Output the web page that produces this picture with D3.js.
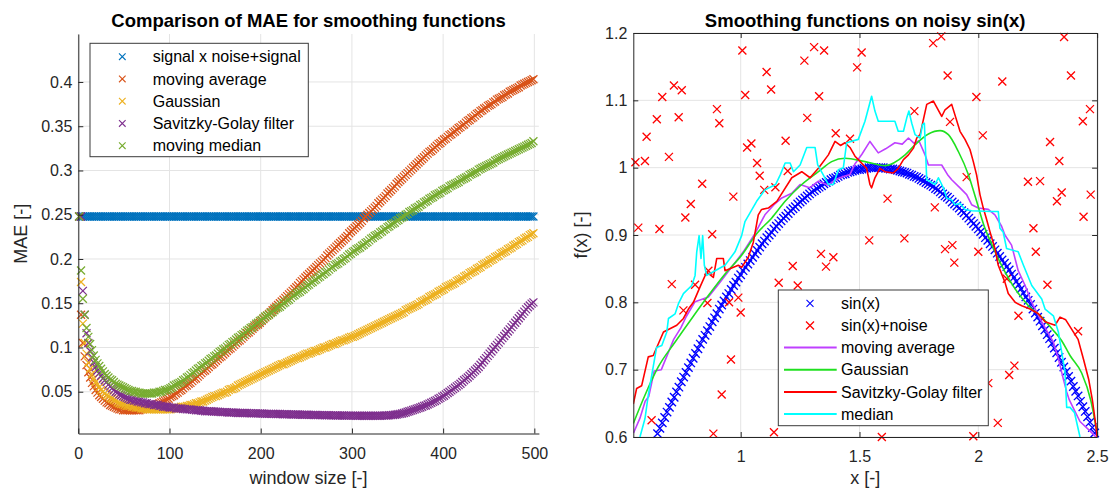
<!DOCTYPE html>
<html>
<head>
<meta charset="utf-8">
<script src="https://cdn.jsdelivr.net/npm/d3@7"></script>
<style>
  body { margin: 0; background: #fff; }
  svg text { font-family: "Liberation Sans", Arial, Helvetica, sans-serif; }
</style>
</head>
<body>
<svg id="chart" width="1117" height="495"></svg>
<script>
// ---------------- Left panel data: MAE against (odd) window size 1..499 ----------------
const windowSizes = d3.range(1, 500, 2);

const maeNoise = [
  0.248, 0.248, 0.248, 0.248, 0.248, 0.248, 0.248, 0.248, 0.248, 0.248,
  0.248, 0.248, 0.248, 0.248, 0.248, 0.248, 0.248, 0.248, 0.248, 0.248,
  0.248, 0.248, 0.248, 0.248, 0.248, 0.248, 0.248, 0.248, 0.248, 0.248,
  0.248, 0.248, 0.248, 0.248, 0.248, 0.248, 0.248, 0.248, 0.248, 0.248,
  0.248, 0.248, 0.248, 0.248, 0.248, 0.248, 0.248, 0.248, 0.248, 0.248,
  0.248, 0.248, 0.248, 0.248, 0.248, 0.248, 0.248, 0.248, 0.248, 0.248,
  0.248, 0.248, 0.248, 0.248, 0.248, 0.248, 0.248, 0.248, 0.248, 0.248,
  0.248, 0.248, 0.248, 0.248, 0.248, 0.248, 0.248, 0.248, 0.248, 0.248,
  0.248, 0.248, 0.248, 0.248, 0.248, 0.248, 0.248, 0.248, 0.248, 0.248,
  0.248, 0.248, 0.248, 0.248, 0.248, 0.248, 0.248, 0.248, 0.248, 0.248,
  0.248, 0.248, 0.248, 0.248, 0.248, 0.248, 0.248, 0.248, 0.248, 0.248,
  0.248, 0.248, 0.248, 0.248, 0.248, 0.248, 0.248, 0.248, 0.248, 0.248,
  0.248, 0.248, 0.248, 0.248, 0.248, 0.248, 0.248, 0.248, 0.248, 0.248,
  0.248, 0.248, 0.248, 0.248, 0.248, 0.248, 0.248, 0.248, 0.248, 0.248,
  0.248, 0.248, 0.248, 0.248, 0.248, 0.248, 0.248, 0.248, 0.248, 0.248,
  0.248, 0.248, 0.248, 0.248, 0.248, 0.248, 0.248, 0.248, 0.248, 0.248,
  0.248, 0.248, 0.248, 0.248, 0.248, 0.248, 0.248, 0.248, 0.248, 0.248,
  0.248, 0.248, 0.248, 0.248, 0.248, 0.248, 0.248, 0.248, 0.248, 0.248,
  0.248, 0.248, 0.248, 0.248, 0.248, 0.248, 0.248, 0.248, 0.248, 0.248,
  0.248, 0.248, 0.248, 0.248, 0.248, 0.248, 0.248, 0.248, 0.248, 0.248,
  0.248, 0.248, 0.248, 0.248, 0.248, 0.248, 0.248, 0.248, 0.248, 0.248,
  0.248, 0.248, 0.248, 0.248, 0.248, 0.248, 0.248, 0.248, 0.248, 0.248,
  0.248, 0.248, 0.248, 0.248, 0.248, 0.248, 0.248, 0.248, 0.248, 0.248,
  0.248, 0.248, 0.248, 0.248, 0.248, 0.248, 0.248, 0.248, 0.248, 0.248,
  0.248, 0.248, 0.248, 0.248, 0.248, 0.248, 0.248, 0.248, 0.248, 0.248
];

const maeMovingAverage = [
  0.248, 0.137, 0.105, 0.090, 0.080, 0.072, 0.066, 0.060, 0.056, 0.052,
  0.049, 0.046, 0.044, 0.042, 0.040, 0.038, 0.037, 0.035, 0.034, 0.033,
  0.032, 0.031, 0.030, 0.030, 0.029, 0.029, 0.029, 0.029, 0.029, 0.029,
  0.029, 0.029, 0.029, 0.029, 0.030, 0.030, 0.031, 0.031, 0.032, 0.033,
  0.033, 0.034, 0.035, 0.036, 0.037, 0.038, 0.039, 0.040, 0.041, 0.042,
  0.044, 0.045, 0.046, 0.048, 0.049, 0.051, 0.052, 0.054, 0.056, 0.057,
  0.059, 0.060, 0.062, 0.064, 0.065, 0.067, 0.069, 0.071, 0.073, 0.074,
  0.076, 0.078, 0.080, 0.081, 0.083, 0.085, 0.087, 0.089, 0.090, 0.092,
  0.094, 0.096, 0.098, 0.099, 0.101, 0.103, 0.105, 0.107, 0.108, 0.110,
  0.112, 0.114, 0.116, 0.117, 0.119, 0.121, 0.123, 0.125, 0.126, 0.128,
  0.130, 0.132, 0.134, 0.136, 0.138, 0.140, 0.142, 0.144, 0.146, 0.148,
  0.150, 0.152, 0.154, 0.156, 0.158, 0.160, 0.162, 0.164, 0.166, 0.168,
  0.170, 0.173, 0.175, 0.177, 0.179, 0.181, 0.183, 0.185, 0.187, 0.189,
  0.191, 0.193, 0.195, 0.197, 0.199, 0.201, 0.204, 0.206, 0.208, 0.210,
  0.212, 0.214, 0.216, 0.218, 0.220, 0.222, 0.224, 0.226, 0.229, 0.231,
  0.233, 0.235, 0.237, 0.239, 0.241, 0.243, 0.246, 0.248, 0.250, 0.252,
  0.254, 0.256, 0.258, 0.260, 0.263, 0.265, 0.267, 0.269, 0.271, 0.274,
  0.276, 0.278, 0.280, 0.282, 0.285, 0.287, 0.289, 0.291, 0.293, 0.295,
  0.297, 0.299, 0.301, 0.303, 0.305, 0.307, 0.309, 0.311, 0.313, 0.315,
  0.317, 0.319, 0.321, 0.322, 0.324, 0.326, 0.328, 0.330, 0.331, 0.333,
  0.335, 0.336, 0.338, 0.340, 0.341, 0.343, 0.344, 0.346, 0.348, 0.349,
  0.351, 0.352, 0.354, 0.356, 0.357, 0.359, 0.360, 0.362, 0.364, 0.365,
  0.367, 0.368, 0.370, 0.371, 0.373, 0.374, 0.375, 0.377, 0.378, 0.380,
  0.381, 0.382, 0.383, 0.385, 0.386, 0.387, 0.389, 0.390, 0.391, 0.392,
  0.393, 0.394, 0.396, 0.397, 0.398, 0.399, 0.400, 0.401, 0.402, 0.403
];

const maeGaussian = [
  0.248, 0.174, 0.127, 0.105, 0.093, 0.083, 0.076, 0.070, 0.065, 0.061,
  0.058, 0.055, 0.052, 0.050, 0.048, 0.046, 0.045, 0.043, 0.042, 0.041,
  0.040, 0.038, 0.037, 0.036, 0.036, 0.035, 0.034, 0.034, 0.034, 0.033,
  0.033, 0.032, 0.032, 0.032, 0.031, 0.031, 0.031, 0.030, 0.030, 0.030,
  0.030, 0.030, 0.030, 0.030, 0.030, 0.030, 0.030, 0.030, 0.030, 0.030,
  0.030, 0.031, 0.031, 0.031, 0.032, 0.032, 0.033, 0.033, 0.033, 0.034,
  0.034, 0.035, 0.035, 0.036, 0.037, 0.037, 0.038, 0.039, 0.039, 0.040,
  0.041, 0.042, 0.043, 0.044, 0.045, 0.045, 0.046, 0.047, 0.048, 0.049,
  0.049, 0.050, 0.052, 0.053, 0.053, 0.054, 0.055, 0.057, 0.058, 0.059,
  0.060, 0.061, 0.062, 0.063, 0.064, 0.065, 0.066, 0.067, 0.068, 0.069,
  0.070, 0.071, 0.072, 0.073, 0.074, 0.075, 0.076, 0.077, 0.078, 0.079,
  0.080, 0.081, 0.081, 0.082, 0.083, 0.084, 0.085, 0.086, 0.087, 0.088,
  0.088, 0.089, 0.090, 0.091, 0.092, 0.093, 0.093, 0.094, 0.095, 0.096,
  0.096, 0.097, 0.098, 0.099, 0.100, 0.100, 0.101, 0.102, 0.103, 0.104,
  0.104, 0.105, 0.106, 0.107, 0.108, 0.108, 0.109, 0.110, 0.111, 0.112,
  0.112, 0.113, 0.114, 0.115, 0.116, 0.117, 0.118, 0.119, 0.120, 0.121,
  0.122, 0.123, 0.124, 0.125, 0.126, 0.127, 0.128, 0.129, 0.130, 0.131,
  0.132, 0.133, 0.134, 0.135, 0.136, 0.137, 0.138, 0.139, 0.140, 0.142,
  0.143, 0.144, 0.145, 0.146, 0.147, 0.148, 0.149, 0.151, 0.152, 0.153,
  0.154, 0.155, 0.157, 0.158, 0.159, 0.160, 0.161, 0.163, 0.164, 0.165,
  0.166, 0.168, 0.169, 0.170, 0.171, 0.172, 0.173, 0.175, 0.176, 0.177,
  0.178, 0.180, 0.181, 0.182, 0.184, 0.185, 0.186, 0.187, 0.189, 0.190,
  0.191, 0.193, 0.194, 0.195, 0.196, 0.198, 0.199, 0.200, 0.202, 0.203,
  0.204, 0.206, 0.207, 0.208, 0.209, 0.211, 0.212, 0.213, 0.215, 0.216,
  0.217, 0.219, 0.220, 0.221, 0.223, 0.224, 0.225, 0.227, 0.228, 0.229
];

const maeSavitzkyGolay = [
  0.248, 0.248, 0.164, 0.137, 0.116, 0.105, 0.096, 0.089, 0.083, 0.078,
  0.074, 0.071, 0.068, 0.065, 0.063, 0.061, 0.058, 0.056, 0.054, 0.052,
  0.050, 0.049, 0.047, 0.046, 0.045, 0.044, 0.043, 0.042, 0.041, 0.041,
  0.040, 0.040, 0.039, 0.039, 0.038, 0.038, 0.037, 0.037, 0.036, 0.036,
  0.036, 0.035, 0.035, 0.035, 0.034, 0.034, 0.033, 0.033, 0.033, 0.0325,
  0.032, 0.032, 0.032, 0.031, 0.031, 0.031, 0.031, 0.0305, 0.0305, 0.030,
  0.030, 0.030, 0.0295, 0.0295, 0.029, 0.029, 0.029, 0.0285, 0.0285, 0.028,
  0.028, 0.028, 0.028, 0.0278, 0.0276, 0.0275, 0.0274, 0.0272, 0.027, 0.027,
  0.027, 0.0268, 0.0266, 0.0265, 0.0265, 0.0264, 0.0262, 0.026, 0.026, 0.026,
  0.026, 0.026, 0.026, 0.0258, 0.0257, 0.0256, 0.0255, 0.0255, 0.0255, 0.0255,
  0.0254, 0.0252, 0.025, 0.025, 0.025, 0.025, 0.025, 0.025, 0.0249, 0.0248,
  0.0248, 0.0247, 0.0246, 0.0245, 0.0245, 0.0244, 0.0244, 0.0243, 0.0243, 0.0242,
  0.0242, 0.0241, 0.024, 0.024, 0.024, 0.024, 0.0239, 0.0238, 0.0238, 0.0237,
  0.0237, 0.0236, 0.0236, 0.0235, 0.0235, 0.0234, 0.0234, 0.0234, 0.0233, 0.0233,
  0.0233, 0.0232, 0.0232, 0.0231, 0.0231, 0.0231, 0.023, 0.023, 0.023, 0.023,
  0.023, 0.023, 0.0229, 0.0229, 0.0229, 0.0229, 0.0228, 0.0228, 0.0228, 0.0228,
  0.0228, 0.0228, 0.0228, 0.0228, 0.0229, 0.0229, 0.023, 0.023, 0.0231, 0.0232,
  0.0234, 0.0235, 0.0237, 0.024, 0.0243, 0.0247, 0.025, 0.0254, 0.026, 0.0265,
  0.0273, 0.028, 0.0287, 0.0294, 0.030, 0.0308, 0.0315, 0.0322, 0.033, 0.034,
  0.0345, 0.0355, 0.0365, 0.0375, 0.0385, 0.0395, 0.0405, 0.042, 0.043, 0.0445,
  0.0455, 0.047, 0.0485, 0.050, 0.0515, 0.053, 0.0545, 0.056, 0.0575, 0.059,
  0.061, 0.063, 0.0645, 0.066, 0.068, 0.070, 0.072, 0.074, 0.076, 0.078,
  0.0805, 0.083, 0.0855, 0.088, 0.0905, 0.093, 0.0955, 0.098, 0.1005, 0.103,
  0.1055, 0.108, 0.1105, 0.113, 0.1155, 0.118, 0.1205, 0.123, 0.1255, 0.128,
  0.1305, 0.133, 0.1355, 0.138, 0.1405, 0.143, 0.1455, 0.1475, 0.1495, 0.151
];

const maeMovingMedian = [
  0.248, 0.187, 0.155, 0.137, 0.122, 0.112, 0.104, 0.097, 0.091, 0.086,
  0.082, 0.079, 0.076, 0.073, 0.070, 0.068, 0.066, 0.064, 0.063, 0.061,
  0.059, 0.058, 0.057, 0.056, 0.055, 0.054, 0.053, 0.052, 0.051, 0.051,
  0.050, 0.050, 0.049, 0.049, 0.048, 0.048, 0.048, 0.048, 0.048, 0.048,
  0.048, 0.049, 0.049, 0.049, 0.050, 0.050, 0.051, 0.052, 0.052, 0.053,
  0.054, 0.055, 0.057, 0.058, 0.059, 0.060, 0.061, 0.063, 0.064, 0.066,
  0.067, 0.069, 0.071, 0.072, 0.074, 0.076, 0.077, 0.079, 0.080, 0.082,
  0.083, 0.085, 0.087, 0.088, 0.090, 0.091, 0.093, 0.095, 0.096, 0.098,
  0.099, 0.101, 0.103, 0.104, 0.106, 0.107, 0.109, 0.111, 0.112, 0.114,
  0.115, 0.117, 0.119, 0.120, 0.122, 0.123, 0.125, 0.127, 0.128, 0.130,
  0.131, 0.133, 0.135, 0.136, 0.137, 0.139, 0.140, 0.142, 0.144, 0.145,
  0.146, 0.148, 0.150, 0.151, 0.153, 0.154, 0.156, 0.158, 0.159, 0.161,
  0.162, 0.163, 0.165, 0.166, 0.168, 0.170, 0.171, 0.173, 0.174, 0.176,
  0.177, 0.179, 0.180, 0.182, 0.183, 0.185, 0.186, 0.188, 0.190, 0.191,
  0.193, 0.194, 0.195, 0.197, 0.198, 0.200, 0.201, 0.203, 0.205, 0.206,
  0.208, 0.209, 0.211, 0.212, 0.213, 0.215, 0.216, 0.218, 0.219, 0.221,
  0.223, 0.224, 0.226, 0.227, 0.228, 0.230, 0.231, 0.233, 0.234, 0.236,
  0.237, 0.239, 0.240, 0.241, 0.243, 0.244, 0.246, 0.247, 0.248, 0.250,
  0.251, 0.253, 0.254, 0.255, 0.257, 0.258, 0.259, 0.261, 0.262, 0.264,
  0.265, 0.266, 0.268, 0.269, 0.270, 0.272, 0.273, 0.274, 0.275, 0.277,
  0.278, 0.279, 0.280, 0.282, 0.283, 0.284, 0.285, 0.286, 0.287, 0.289,
  0.290, 0.291, 0.292, 0.293, 0.295, 0.296, 0.297, 0.298, 0.299, 0.301,
  0.302, 0.303, 0.304, 0.305, 0.306, 0.307, 0.308, 0.309, 0.311, 0.312,
  0.313, 0.314, 0.315, 0.316, 0.317, 0.318, 0.319, 0.320, 0.321, 0.322,
  0.323, 0.324, 0.325, 0.326, 0.327, 0.328, 0.329, 0.330, 0.331, 0.333
];

const leftSeriesNames = ["signal x noise+signal", "moving average", "Gaussian", "Savitzky-Golay filter", "moving median"];
const leftSeriesColors = ["#0072BD", "#D95319", "#EDB120", "#7E2F8E", "#77AC30"];
const leftXTicks = [0, 100, 200, 300, 400, 500];
const leftYTicks = [0.05, 0.1, 0.15, 0.2, 0.25, 0.3, 0.35, 0.4];

// ---------------- Right panel data: smoothing of noisy sin(x) ----------------
const sinX = d3.range(65, 250).map(i => i / 100);
const sinY = [
  0.605, 0.613, 0.621, 0.629, 0.637, 0.644, 0.652, 0.659, 0.667, 0.674,
  0.682, 0.689, 0.696, 0.703, 0.710, 0.717, 0.724, 0.731, 0.738, 0.745,
  0.751, 0.758, 0.764, 0.771, 0.777, 0.783, 0.790, 0.796, 0.802, 0.808,
  0.813, 0.819, 0.825, 0.830, 0.836, 0.841, 0.847, 0.852, 0.857, 0.862,
  0.867, 0.872, 0.877, 0.882, 0.887, 0.891, 0.896, 0.900, 0.904, 0.909,
  0.913, 0.917, 0.921, 0.925, 0.928, 0.932, 0.936, 0.939, 0.942, 0.946,
  0.949, 0.952, 0.955, 0.958, 0.961, 0.964, 0.966, 0.969, 0.971, 0.973,
  0.976, 0.978, 0.980, 0.982, 0.984, 0.985, 0.987, 0.989, 0.990, 0.991,
  0.993, 0.994, 0.995, 0.996, 0.997, 0.997, 0.998, 0.999, 0.999, 1.000,
  1.000, 1.000, 1.000, 1.000, 1.000, 1.000, 0.999, 0.999, 0.998, 0.998,
  0.997, 0.996, 0.995, 0.994, 0.993, 0.992, 0.990, 0.989, 0.987, 0.986,
  0.984, 0.982, 0.980, 0.978, 0.976, 0.974, 0.972, 0.969, 0.967, 0.964,
  0.961, 0.958, 0.956, 0.953, 0.949, 0.946, 0.943, 0.940, 0.936, 0.933,
  0.929, 0.925, 0.921, 0.917, 0.913, 0.909, 0.905, 0.901, 0.896, 0.892,
  0.887, 0.883, 0.878, 0.873, 0.868, 0.863, 0.858, 0.853, 0.848, 0.842,
  0.837, 0.831, 0.826, 0.820, 0.814, 0.808, 0.803, 0.797, 0.790, 0.784,
  0.778, 0.772, 0.765, 0.759, 0.752, 0.746, 0.739, 0.732, 0.725, 0.718,
  0.711, 0.704, 0.697, 0.690, 0.683, 0.675, 0.668, 0.661, 0.653, 0.645,
  0.638, 0.630, 0.622, 0.614, 0.606
];

const noiseX = [
  1.007, 1.309, 1.351, 1.268, 1.109, 1.128, 1.019, 1.330, 0.719, 0.752,
  0.670, 0.647, 0.739, 0.900, 0.910, 1.280, 0.604, 1.400, 1.189, 1.045,
  1.027, 0.557, 0.597, 0.698, 1.069, 1.198, 1.080, 0.838, 1.099, 1.146,
  0.969, 0.790, 0.767, 0.569, 0.658, 0.880, 1.460, 1.844, 1.810, 2.361,
  1.509, 1.490, 1.871, 2.101, 2.390, 1.992, 1.731, 1.881, 2.019, 2.302,
  2.341, 1.951, 2.209, 2.260, 2.351, 2.331, 1.618, 1.817, 2.232, 2.470,
  2.440, 2.473, 2.443, 2.420, 1.338, 1.390, 1.359, 1.219, 1.160, 1.240,
  0.710, 0.808, 0.864, 0.759, 0.860, 0.951, 0.990, 1.000, 0.959, 0.920,
  0.625, 0.885, 1.140, 1.541, 1.689, 1.860, 1.891, 1.899, 2.000, 2.242,
  2.291, 2.120, 2.169, 2.152, 2.130, 2.082, 1.594, 1.979, 2.042
];
const noiseY = [
  1.174, 1.179, 1.174, 1.159, 1.142, 1.116, 1.108, 1.106, 1.122, 1.115,
  1.105, 1.072, 1.075, 1.087, 1.066, 1.074, 1.046, 1.051, 1.040, 1.036,
  1.030, 1.008, 1.010, 1.016, 1.007, 0.995, 0.988, 0.976, 0.967, 0.971,
  0.957, 0.946, 0.926, 0.911, 0.909, 0.901, 1.043, 1.195, 1.185, 1.194,
  1.171, 1.149, 1.137, 1.128, 1.137, 1.105, 1.084, 1.068, 1.048, 1.038,
  1.010, 0.986, 0.979, 0.980, 0.963, 0.950, 0.954, 0.941, 0.910, 1.087,
  1.069, 0.960, 0.927, 0.757, 0.872, 0.867, 0.853, 0.854, 0.829, 0.825,
  0.827, 0.826, 0.847, 0.788, 0.799, 0.800, 0.807, 0.785, 0.715, 0.663,
  0.625, 0.605, 0.607, 0.892, 0.895, 0.879, 0.885, 0.859, 0.875, 0.875,
  0.826, 0.835, 0.780, 0.706, 0.692, 0.621, 0.600, 0.601, 0.680
];

const movAvgX = [
  0.549, 0.576, 0.598, 0.613, 0.636, 0.666, 0.718, 0.748, 0.771, 0.808,
  0.864, 0.913, 1.011, 1.060, 1.102, 1.140, 1.173, 1.215, 1.250, 1.290,
  1.327, 1.370, 1.397, 1.432, 1.460, 1.480, 1.510, 1.544, 1.579, 1.610,
  1.649, 1.680, 1.706, 1.730, 1.750, 1.776, 1.790, 1.846, 1.870, 1.888,
  1.923, 1.951, 1.972, 2.000, 2.042, 2.070, 2.098, 2.112, 2.140, 2.168,
  2.197, 2.225, 2.267, 2.316, 2.337, 2.358, 2.372, 2.383, 2.428, 2.473, 2.495
];
const movAvgY = [
  0.606, 0.628, 0.653, 0.660, 0.698, 0.700, 0.745, 0.762, 0.779, 0.801,
  0.808, 0.830, 0.875, 0.902, 0.930, 0.945, 0.955, 0.962, 0.975, 0.970,
  0.980, 0.974, 0.982, 0.987, 0.990, 1.005, 1.020, 1.039, 1.022, 1.028,
  1.037, 1.035, 1.044, 1.036, 1.040, 1.019, 1.004, 1.004, 0.990, 0.982,
  0.970, 0.960, 0.945, 0.940, 0.938, 0.930, 0.913, 0.900, 0.885, 0.847,
  0.825, 0.800, 0.771, 0.741, 0.716, 0.686, 0.667, 0.655, 0.623, 0.608, 0.600
];

const gaussX = [
  0.548, 0.597, 0.653, 0.724, 0.794, 0.864, 0.934, 1.004, 1.067, 1.130,
  1.187, 1.257, 1.327, 1.383, 1.439, 1.523, 1.607, 1.692, 1.734, 1.790,
  1.839, 1.874, 1.916, 1.958, 1.993, 2.028, 2.042, 2.098, 2.155, 2.211,
  2.267, 2.309, 2.351, 2.386, 2.435, 2.473, 2.500
];
const gaussY = [
  0.620, 0.662, 0.704, 0.741, 0.776, 0.810, 0.842, 0.870, 0.902, 0.925,
  0.950, 0.975, 0.994, 1.009, 1.014, 1.009, 1.003, 1.019, 1.034, 1.050,
  1.055, 1.049, 1.024, 0.990, 0.950, 0.910, 0.898, 0.855, 0.820, 0.795,
  0.778, 0.761, 0.743, 0.721, 0.695, 0.655, 0.606
];

const sgX = [
  0.548, 0.562, 0.583, 0.611, 0.632, 0.675, 0.731, 0.759, 0.780, 0.801,
  0.829, 0.857, 0.885, 0.899, 0.927, 0.934, 0.990, 1.004, 1.032, 1.053,
  1.074, 1.088, 1.116, 1.152, 1.215, 1.257, 1.292, 1.327, 1.369, 1.397,
  1.420, 1.439, 1.460, 1.481, 1.495, 1.530, 1.544, 1.551, 1.565, 1.586,
  1.607, 1.642, 1.663, 1.685, 1.706, 1.727, 1.741, 1.755, 1.783, 1.811,
  1.846, 1.860, 1.888, 1.923, 1.944, 1.965, 1.979, 1.993, 2.007, 2.021,
  2.035, 2.049, 2.070, 2.084, 2.112, 2.126, 2.155, 2.183, 2.218, 2.253,
  2.281, 2.323, 2.344, 2.368, 2.420, 2.443, 2.465, 2.480, 2.495, 2.500
];
const sgY = [
  0.649, 0.672, 0.676, 0.719, 0.721, 0.756, 0.766, 0.776, 0.790, 0.800,
  0.823, 0.845, 0.837, 0.865, 0.865, 0.847, 0.855, 0.852, 0.867, 0.889,
  0.930, 0.938, 0.940, 0.950, 0.985, 0.994, 0.985, 0.999, 1.019, 1.039,
  1.033, 1.037, 1.030, 1.017, 1.012, 0.999, 0.975, 0.970, 0.985, 0.999,
  0.994, 0.992, 0.999, 1.012, 1.019, 1.029, 1.044, 1.049, 1.094, 1.099,
  1.076, 1.086, 1.094, 1.054, 1.042, 1.027, 1.009, 0.989, 0.960, 0.940,
  0.923, 0.905, 0.880, 0.855, 0.830, 0.813, 0.800, 0.795, 0.790, 0.783,
  0.771, 0.766, 0.778, 0.774, 0.745, 0.715, 0.685, 0.655, 0.616, 0.600
];

const medianX = [
  0.576, 0.597, 0.611, 0.646, 0.668, 0.689, 0.696, 0.724, 0.738, 0.759,
  0.794, 0.808, 0.815, 0.825, 0.833, 0.840, 0.847, 0.857, 0.892, 0.934,
  0.976, 1.004, 1.018, 1.067, 1.102, 1.147, 1.166, 1.187, 1.208, 1.222,
  1.250, 1.278, 1.313, 1.324, 1.348, 1.369, 1.390, 1.411, 1.432, 1.446,
  1.495, 1.523, 1.551, 1.565, 1.579, 1.649, 1.663, 1.685, 1.699, 1.708,
  1.720, 1.734, 1.755, 1.765, 1.773, 1.783, 1.818, 1.832, 1.853, 1.867,
  1.888, 1.902, 1.923, 1.944, 1.972, 2.056, 2.084, 2.091, 2.105, 2.119,
  2.168, 2.190, 2.225, 2.267, 2.281, 2.316, 2.337, 2.351, 2.365, 2.372,
  2.386, 2.405, 2.428
];
const medianY = [
  0.600, 0.627, 0.662, 0.733, 0.736, 0.756, 0.776, 0.783, 0.798, 0.813,
  0.825, 0.840, 0.875, 0.899, 0.865, 0.899, 0.855, 0.840, 0.847, 0.855,
  0.875, 0.899, 0.920, 0.950, 0.967, 0.975, 0.989, 1.007, 1.007, 0.994,
  1.004, 1.030, 1.030, 1.004, 0.989, 0.975, 0.975, 0.997, 1.000, 1.037,
  1.042, 1.069, 1.106, 1.084, 1.069, 1.069, 1.054, 1.054, 1.074, 1.084,
  1.066, 1.049, 1.044, 1.064, 1.066, 0.982, 0.975, 0.985, 0.970, 0.955,
  0.952, 0.945, 0.947, 0.938, 0.936, 0.935, 0.935, 0.910, 0.904, 0.880,
  0.875, 0.855, 0.825, 0.805, 0.790, 0.780, 0.756, 0.726, 0.696, 0.644,
  0.644, 0.636, 0.600
];

const rightLegendNames = ["sin(x)", "sin(x)+noise", "moving average", "Gaussian", "Savitzky-Golay filter", "median"];
const rightColors = { sin: "#0000FF", noise: "#FF0000", movAvg: "#BF40FF", gauss: "#20E020", sg: "#FF0000", median: "#00FFFF" };
const rightXTicks = [1, 1.5, 2, 2.5];
const rightYTicks = [0.6, 0.7, 0.8, 0.9, 1, 1.1, 1.2];

// ---------------- Shared drawing helpers ----------------
const svg = d3.select("#chart");
const AXIS_COLOR = "#262626";
const GRID_COLOR = "#e4e4e4";
const TICK_FONT = 16;

function xMarkerPath(r) {
  return `M${-r},${-r}L${r},${r}M${-r},${r}L${r},${-r}`;
}

function styleAxis(g) {
  g.select(".domain").attr("stroke", AXIS_COLOR).attr("stroke-width", 1);
  g.selectAll(".tick line").attr("stroke", AXIS_COLOR).attr("stroke-width", 1);
  g.selectAll(".tick text")
    .attr("fill", AXIS_COLOR)
    .attr("font-size", TICK_FONT)
    .attr("font-family", '"Liberation Sans", Arial, sans-serif');
  g.attr("font-family", null).attr("font-size", null);
}

function drawGrid(g, x, y, xTicks, yTicks) {
  const [x0, x1] = x.range();
  const [y0, y1] = y.range();
  g.append("g").selectAll("line").data(xTicks).join("line")
    .attr("x1", d => x(d)).attr("x2", d => x(d))
    .attr("y1", y0).attr("y2", y1)
    .attr("stroke", GRID_COLOR).attr("stroke-width", 1);
  g.append("g").selectAll("line").data(yTicks).join("line")
    .attr("x1", x0).attr("x2", x1)
    .attr("y1", d => y(d)).attr("y2", d => y(d))
    .attr("stroke", GRID_COLOR).attr("stroke-width", 1);
}

// ---------------- Left panel ----------------
const xL = d3.scaleLinear().domain([0, 505]).range([78.3, 538.9]);
const yL = d3.scaleLinear().domain([0.0028, 0.4542]).range([433.5, 34]);
const left = svg.append("g");

drawGrid(left, xL, yL, leftXTicks, leftYTicks);

const leftSeries = [maeNoise, maeMovingAverage, maeGaussian, maeSavitzkyGolay, maeMovingMedian];
leftSeries.forEach((vals, i) => {
  left.append("g")
    .attr("fill", "none")
    .attr("stroke", leftSeriesColors[i])
    .attr("stroke-width", 1.25)
    .selectAll("path")
    .data(windowSizes.map((w, k) => [w, vals[k]]))
    .join("path")
    .attr("transform", d => `translate(${xL(d[0])},${yL(d[1])})`)
    .attr("d", xMarkerPath(4));
});

left.append("g").attr("transform", `translate(0,${yL.range()[0]})`)
  .call(d3.axisBottom(xL).tickValues(leftXTicks).tickFormat(d3.format("d"))
    .tickSize(-5).tickSizeOuter(0).tickPadding(14))
  .call(styleAxis);

left.append("g").attr("transform", `translate(${xL.range()[0]},0)`)
  .call(d3.axisLeft(yL).tickValues(leftYTicks).tickFormat(d => String(+d.toFixed(2)))
    .tickSize(-5).tickSizeOuter(0).tickPadding(6))
  .call(styleAxis);

left.append("text")
  .attr("x", (xL.range()[0] + xL.range()[1]) / 2).attr("y", 27)
  .attr("text-anchor", "middle").attr("font-size", 18.5).attr("font-weight", "bold")
  .attr("fill", "#000")
  .text("Comparison of MAE for smoothing functions");

left.append("text")
  .attr("x", (xL.range()[0] + xL.range()[1]) / 2).attr("y", 484)
  .attr("text-anchor", "middle").attr("font-size", 18).attr("fill", AXIS_COLOR)
  .text("window size [-]");

left.append("text")
  .attr("transform", `translate(27,${(yL.range()[0] + yL.range()[1]) / 2}) rotate(-90)`)
  .attr("text-anchor", "middle").attr("font-size", 18).attr("fill", AXIS_COLOR)
  .text("MAE [-]");

// left legend
const legL = left.append("g");
legL.append("rect").attr("x", 90).attr("y", 43.3).attr("width", 218.3).attr("height", 113.4)
  .attr("fill", "#fff").attr("stroke", "#3a3a3a").attr("stroke-width", 1);
leftSeriesNames.forEach((name, i) => {
  const cy = 56.7 + i * 22.25;
  legL.append("path").attr("transform", `translate(122.3,${cy})`)
    .attr("d", xMarkerPath(3.3)).attr("stroke", leftSeriesColors[i])
    .attr("stroke-width", 1.1).attr("fill", "none");
  legL.append("text").attr("x", 152.7).attr("y", cy + 5.6)
    .attr("font-size", 16).attr("fill", "#000").text(name);
});

// ---------------- Right panel ----------------
const xR = d3.scaleLinear().domain([0.548, 2.5]).range([633.3, 1097.1]);
const yR = d3.scaleLinear().domain([0.6, 1.2]).range([437, 33]);
const right = svg.append("g");

svg.append("defs").append("clipPath").attr("id", "clipR")
  .append("rect").attr("x", xR.range()[0]).attr("y", yR.range()[1])
  .attr("width", xR.range()[1] - xR.range()[0]).attr("height", yR.range()[0] - yR.range()[1]);

drawGrid(right, xR, yR, rightXTicks, rightYTicks);

const inside = (x, y) => x >= xR.domain()[0] && x <= xR.domain()[1] && y >= yR.domain()[0] && y <= yR.domain()[1];

right.append("g").attr("fill", "none").attr("stroke", rightColors.sin).attr("stroke-width", 1.35)
  .selectAll("path").data(sinX.map((x, i) => [x, sinY[i]]).filter(d => inside(d[0], d[1])))
  .join("path")
  .attr("transform", d => `translate(${xR(d[0])},${yR(d[1])})`)
  .attr("d", xMarkerPath(4.2));

right.append("g").attr("fill", "none").attr("stroke", rightColors.noise).attr("stroke-width", 1.3)
  .selectAll("path").data(noiseX.map((x, i) => [x, noiseY[i]]).filter(d => inside(d[0], d[1])))
  .join("path")
  .attr("transform", d => `translate(${xR(d[0])},${yR(d[1])})`)
  .attr("d", xMarkerPath(4));

const lineR = d3.line().x(d => xR(d[0])).y(d => yR(d[1]));
const curves = [
  { xs: movAvgX, ys: movAvgY, color: rightColors.movAvg, curve: d3.curveLinear },
  { xs: gaussX, ys: gaussY, color: rightColors.gauss, curve: d3.curveMonotoneX },
  { xs: sgX, ys: sgY, color: rightColors.sg, curve: d3.curveLinear },
  { xs: medianX, ys: medianY, color: rightColors.median, curve: d3.curveLinear }
];
curves.forEach(c => {
  right.append("path")
    .attr("clip-path", "url(#clipR)")
    .attr("fill", "none").attr("stroke", c.color).attr("stroke-width", 1.6)
    .attr("stroke-linejoin", "round")
    .attr("d", lineR.curve(c.curve)(c.xs.map((x, i) => [x, c.ys[i]])));
});

// box with inward ticks on all four sides
right.append("g").attr("transform", `translate(0,${yR.range()[0]})`)
  .call(d3.axisBottom(xR).tickValues(rightXTicks).tickFormat(d => String(d))
    .tickSize(-5).tickSizeOuter(0).tickPadding(14))
  .call(styleAxis);
right.append("g").attr("transform", `translate(0,${yR.range()[1]})`)
  .call(d3.axisTop(xR).tickValues(rightXTicks).tickFormat("")
    .tickSize(-5).tickSizeOuter(0))
  .call(styleAxis);
right.append("g").attr("transform", `translate(${xR.range()[0]},0)`)
  .call(d3.axisLeft(yR).tickValues(rightYTicks).tickFormat(d => String(+d.toFixed(1)))
    .tickSize(-5).tickSizeOuter(0).tickPadding(6))
  .call(styleAxis);
right.append("g").attr("transform", `translate(${xR.range()[1]},0)`)
  .call(d3.axisRight(yR).tickValues(rightYTicks).tickFormat("")
    .tickSize(-5).tickSizeOuter(0))
  .call(styleAxis);

right.append("text")
  .attr("x", (xR.range()[0] + xR.range()[1]) / 2).attr("y", 27)
  .attr("text-anchor", "middle").attr("font-size", 18.5).attr("font-weight", "bold")
  .attr("fill", "#000")
  .text("Smoothing functions on noisy sin(x)");

right.append("text")
  .attr("x", (xR.range()[0] + xR.range()[1]) / 2).attr("y", 484)
  .attr("text-anchor", "middle").attr("font-size", 18).attr("fill", AXIS_COLOR)
  .text("x [-]");

right.append("text")
  .attr("transform", `translate(587,${(yR.range()[0] + yR.range()[1]) / 2}) rotate(-90)`)
  .attr("text-anchor", "middle").attr("font-size", 18).attr("fill", AXIS_COLOR)
  .text("f(x) [-]");

// right legend
const legR = right.append("g");
legR.append("rect").attr("x", 778.3).attr("y", 290).attr("width", 210).attr("height", 135.7)
  .attr("fill", "#fff").attr("stroke", "#3a3a3a").attr("stroke-width", 1);
const legendKinds = [
  { type: "marker", color: rightColors.sin, w: 1.1, r: 3.5 },
  { type: "marker", color: rightColors.noise, w: 1.3, r: 4 },
  { type: "line", color: rightColors.movAvg },
  { type: "line", color: rightColors.gauss },
  { type: "line", color: rightColors.sg },
  { type: "line", color: rightColors.median }
];
rightLegendNames.forEach((name, i) => {
  const cy = 303.3 + i * 22.15;
  const k = legendKinds[i];
  if (k.type === "marker") {
    legR.append("path").attr("transform", `translate(810,${cy})`)
      .attr("d", xMarkerPath(k.r)).attr("stroke", k.color).attr("stroke-width", k.w).attr("fill", "none");
  } else {
    legR.append("line").attr("x1", 784).attr("x2", 836.7).attr("y1", cy).attr("y2", cy)
      .attr("stroke", k.color).attr("stroke-width", 2);
  }
  legR.append("text").attr("x", 841).attr("y", cy + 5.6)
    .attr("font-size", 16).attr("fill", "#000").text(name);
});
</script>
</body>
</html>
